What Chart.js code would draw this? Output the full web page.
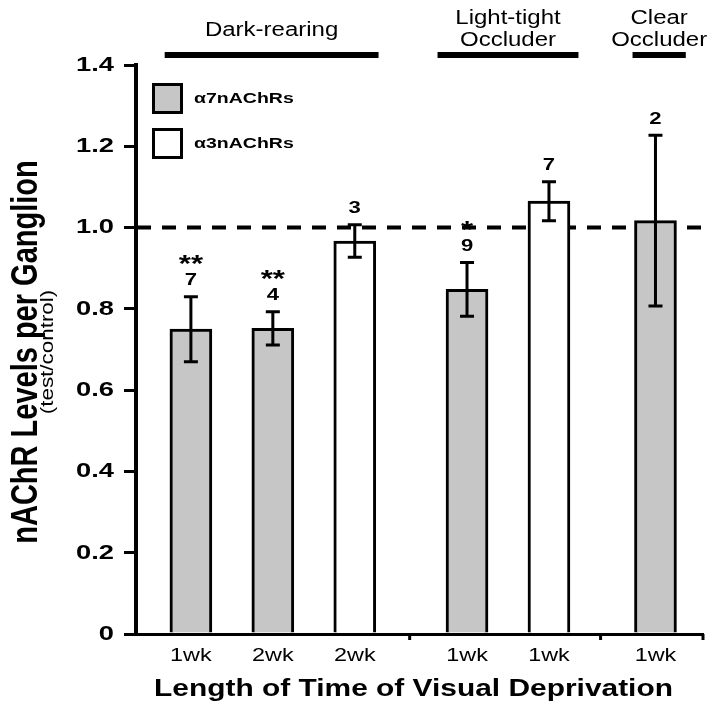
<!DOCTYPE html>
<html>
<head>
<meta charset="utf-8">
<script src="https://cdn.jsdelivr.net/npm/chart.js@4.4.0/dist/chart.umd.min.js"></script>
<style>
  html, body { margin: 0; padding: 0; background: #fff; }
</style>
</head>
<body>
<canvas id="chart" width="712" height="719"></canvas>
<script>
// data
const weeks = ["1wk", "2wk", "2wk", "1wk", "1wk", "1wk"];
const receptor = ["a7", "a7", "a3", "a7", "a3", "a7"];
const xPos = [0.67, 1.67, 2.67, 4.04, 5.04, 6.34];
const means = [0.75, 0.752, 0.967, 0.848, 1.065, 1.017];
const errs = [0.08, 0.041, 0.04, 0.066, 0.048, 0.21];
const nLabels = ["7", "4", "3", "9", "7", "2"];
const stars = ["**", "**", "", "*", "", ""];
const yTicks = [0, 0.2, 0.4, 0.6, 0.8, 1.0, 1.2, 1.4];
const groupNames = [["Dark-rearing"], ["Light-tight", "Occluder"], ["Clear", "Occluder"]];
const groupStart = [0.35, 3.68, 6.06];
const groupEnd = [2.96, 5.40, 6.71];
const separators = [3.34, 5.67, 6.92];
const seriesKeys = ["a7", "a3"];
const seriesNames = ["α7nAChRs", "α3nAChRs"];
const seriesFill = ["#c6c6c6", "#ffffff"];

const FONT = '"Liberation Sans", Arial, Helvetica, sans-serif';
const SX = 1.3; // the figure's lettering is stretched sideways

function stretchText(ctx, str, x, y, font, opts) {
  opts = opts || {};
  ctx.save();
  ctx.translate(x, y);
  ctx.scale(opts.sx || SX, opts.sy || 1);
  if (opts.rot) ctx.rotate(opts.rot);
  ctx.font = font;
  ctx.textAlign = opts.align || "center";
  ctx.textBaseline = opts.base || "middle";
  ctx.fillStyle = "#000";
  ctx.fillText(str, 0, 0);
  ctx.restore();
}

const datasets = seriesKeys.map((k, s) => ({
  label: seriesNames[s],
  data: xPos.map((x, i) => ({ x: x, y: means[i], i: i })).filter(d => receptor[d.i] === k),
  backgroundColor: seriesFill[s],
  borderColor: "#000",
  borderWidth: 3,
  barThickness: 42,
  grouped: false,
}));

const extras = {
  id: "extras",
  beforeDatasetsDraw(chart) {
    const ctx = chart.ctx, y = chart.scales.y, area = chart.chartArea;
    // reference line at 1.0
    ctx.save();
    ctx.strokeStyle = "#000";
    ctx.lineWidth = 4;
    ctx.setLineDash([14, 11]);
    ctx.beginPath();
    ctx.moveTo(area.left + 1, y.getPixelForValue(1.0));
    ctx.lineTo(chart.width, y.getPixelForValue(1.0));
    ctx.stroke();
    ctx.restore();
  },
  afterDatasetsDraw(chart) {
    const ctx = chart.ctx, x = chart.scales.x, y = chart.scales.y;
    ctx.save();
    ctx.strokeStyle = "#000";
    ctx.lineWidth = 3;
    xPos.forEach((v, i) => {
      const px = x.getPixelForValue(v);
      const top = y.getPixelForValue(means[i] + errs[i]);
      const bot = y.getPixelForValue(means[i] - errs[i]);
      ctx.beginPath();
      ctx.moveTo(px, top); ctx.lineTo(px, bot);
      ctx.moveTo(px - 7, top); ctx.lineTo(px + 7, top);
      ctx.moveTo(px - 7, bot); ctx.lineTo(px + 7, bot);
      ctx.stroke();
      const ny = top - 16;
      stretchText(ctx, nLabels[i], px, ny, "bold 17px " + FONT);
      if (stars[i]) {
        stretchText(ctx, stars[i], px, ny - 23 + 14, "bold 24px " + FONT, { base: "alphabetic" });
      }
    });
    ctx.restore();
  },
  afterDraw(chart) {
    const ctx = chart.ctx, x = chart.scales.x, y = chart.scales.y, area = chart.chartArea;
    // y tick labels
    yTicks.forEach(v => {
      const t = v === 0 ? "0" : v.toFixed(1);
      stretchText(ctx, t, 114, y.getPixelForValue(v), "bold 21px " + FONT, { align: "right" });
    });
    // category labels
    xPos.forEach((v, i) => {
      stretchText(ctx, weeks[i], x.getPixelForValue(v), 656, "18px " + FONT);
    });
    // small ticks between groups
    ctx.save();
    ctx.strokeStyle = "#000";
    ctx.lineWidth = 3;
    separators.forEach(v => {
      const px = x.getPixelForValue(v);
      ctx.beginPath();
      ctx.moveTo(px, area.bottom); ctx.lineTo(px, area.bottom + 6);
      ctx.stroke();
    });
    ctx.restore();
    // axis titles
    stretchText(ctx, "nAChR Levels per Ganglion", 37, 352, "bold 29px " + FONT,
      { rot: -Math.PI / 2, base: "alphabetic" });
    stretchText(ctx, "(test/control)", 53, 352, "16px " + FONT,
      { rot: -Math.PI / 2, base: "alphabetic", sx: 1.15, sy: 1.4 });
    stretchText(ctx, "Length of Time of Visual Deprivation", (area.left + area.right) / 2 - 6, 690,
      "bold 23px " + FONT);
    // group headers with their bars
    ctx.save();
    ctx.fillStyle = "#000";
    groupNames.forEach((lines, g) => {
      const x0 = x.getPixelForValue(groupStart[g]);
      const x1 = x.getPixelForValue(groupEnd[g]);
      ctx.fillRect(x0, 52, x1 - x0, 6);
      const cx = (x0 + x1) / 2;
      if (lines.length === 1) {
        stretchText(ctx, lines[0], cx, 30, "20px " + FONT, { sx: 1.2 });
      } else {
        stretchText(ctx, lines[0], cx, 18, "20px " + FONT, { sx: 1.2 });
        stretchText(ctx, lines[1], cx, 40, "20px " + FONT, { sx: 1.2 });
      }
    });
    ctx.restore();
    // legend
    ctx.save();
    seriesNames.forEach((name, s) => {
      const top = 83 + s * 45;
      ctx.fillStyle = seriesFill[s];
      ctx.fillRect(152, top, 31, 31);
      ctx.strokeStyle = "#000";
      ctx.lineWidth = 3;
      ctx.strokeRect(153.5, top + 1.5, 28, 28);
      stretchText(ctx, name, 194, top + 16, "bold 15px " + FONT, { align: "left" });
    });
    ctx.restore();
  }
};

new Chart(document.getElementById("chart"), {
  type: "bar",
  data: { datasets: datasets },
  options: {
    responsive: false,
    animation: false,
    devicePixelRatio: 1,
    layout: { padding: { top: 65, right: 9, left: 0, bottom: 0 } },
    plugins: { legend: { display: false }, tooltip: { enabled: false } },
    scales: {
      x: {
        type: "linear",
        min: 0,
        max: 6.92,
        offset: false,
        ticks: { display: false },
        grid: { display: false, offset: false },
        border: { display: true, color: "#000", width: 3 },
        afterFit: s => { s.height = 85; }
      },
      y: {
        min: 0,
        max: 1.4,
        afterBuildTicks: a => { a.ticks = yTicks.map(v => ({ value: v })); },
        ticks: { display: false },
        grid: { display: true, drawOnChartArea: false, drawTicks: true, tickLength: 12, color: "#000", lineWidth: 3 },
        border: { display: true, color: "#000", width: 4 },
        afterFit: s => { s.width = 136; }
      }
    }
  },
  plugins: [extras]
});
</script>
</body>
</html>
